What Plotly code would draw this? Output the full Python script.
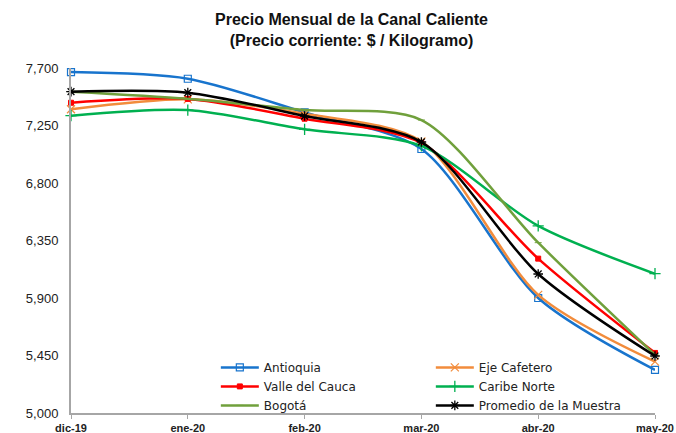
import plotly.graph_objects as go

months = ["dic-19", "ene-20", "feb-20", "mar-20", "abr-20", "may-20"]
antioquia = [7668, 7616, 7352, 7066, 5900, 5337]
eje_cafetero = [7377, 7455, 7342, 7125, 5924, 5402]
valle_cauca = [7428, 7458, 7303, 7113, 6208, 5470]
caribe_norte = [7327, 7371, 7220, 7090, 6464, 6090]
bogota = [7515, 7460, 7371, 7293, 6333, 5455]
promedio = [7515, 7507, 7324, 7121, 6088, 5446]

y_ticks = [5000, 5450, 5900, 6350, 6800, 7250, 7700]

series = [
    ("Antioquia", antioquia, "#1874CD", "square-open", 7, 1.2),
    ("Eje Cafetero", eje_cafetero, "#F28C3C", "x-thin-open", 8, 1.2),
    ("Valle del Cauca", valle_cauca, "#FF0000", "square", 5, 1),
    ("Caribe Norte", caribe_norte, "#00B050", "cross-thin-open", 8, 1.3),
    ("Bogotá", bogota, "#70A03C", "line-ew-open", 5, 1),
    ("Promedio de la Muestra", promedio, "#000000", "asterisk-open", 8, 1.3),
]

fig = go.Figure()
for name, vals, color, sym, size, lw in series:
    fig.add_trace(go.Scatter(
        x=list(range(len(months))), y=vals, name=name, mode="lines+markers",
        line=dict(color=color, width=2.5, shape="spline", smoothing=0.8),
        marker=dict(symbol=sym, size=size, color=color,
                    line=dict(color=color, width=lw)),
        cliponaxis=False,
    ))

fig.update_layout(
    width=676, height=433,
    margin=dict(l=71, r=21, t=68, b=20, autoexpand=False),
    paper_bgcolor="white", plot_bgcolor="white",
    font=dict(family="Liberation Sans, Arial, sans-serif", color="#222222"),
    title=dict(
        text="<b>Precio Mensual de la Canal Caliente<br>(Precio corriente: $ / Kilogramo)</b>",
        x=0.52, xanchor="center", xref="container",
        y=1 - 25 / 433, yanchor="middle", yref="container",
        font=dict(size=16, color="#111111"),
    ),
    showlegend=True,
    legend=dict(
        orientation="h", x=0.248, y=-0.02, xanchor="left", yanchor="bottom",
        entrywidth=162, entrywidthmode="pixels",
        bgcolor="rgba(255,255,255,0)",
        font=dict(family="DejaVu Sans, sans-serif", size=12, color="#222222"),
        itemwidth=38, tracegroupgap=0,
    ),
)
fig.update_xaxes(
    range=[0, 5], tickmode="array", tickvals=list(range(len(months))),
    ticktext=[f"<b>{m}</b>" for m in months], automargin=False,
    showline=True, linecolor="#A6A6A6", linewidth=2, showgrid=False, zeroline=False,
    ticks="outside", ticklen=4, tickcolor="#A6A6A6", tickfont=dict(size=11),
)
fig.update_yaxes(
    range=[5000, 7700], tickmode="array", tickvals=y_ticks,
    ticktext=[f"{v:,}" for v in y_ticks], automargin=False,
    showline=True, linecolor="#A6A6A6", linewidth=2, showgrid=False, zeroline=False,
    ticks="outside", ticklen=8, tickcolor="rgba(0,0,0,0)", tickfont=dict(size=13),
)

fig.write_html("out.html", post_script="document.body.style.margin='0';",
               config={"displayModeBar": False})
